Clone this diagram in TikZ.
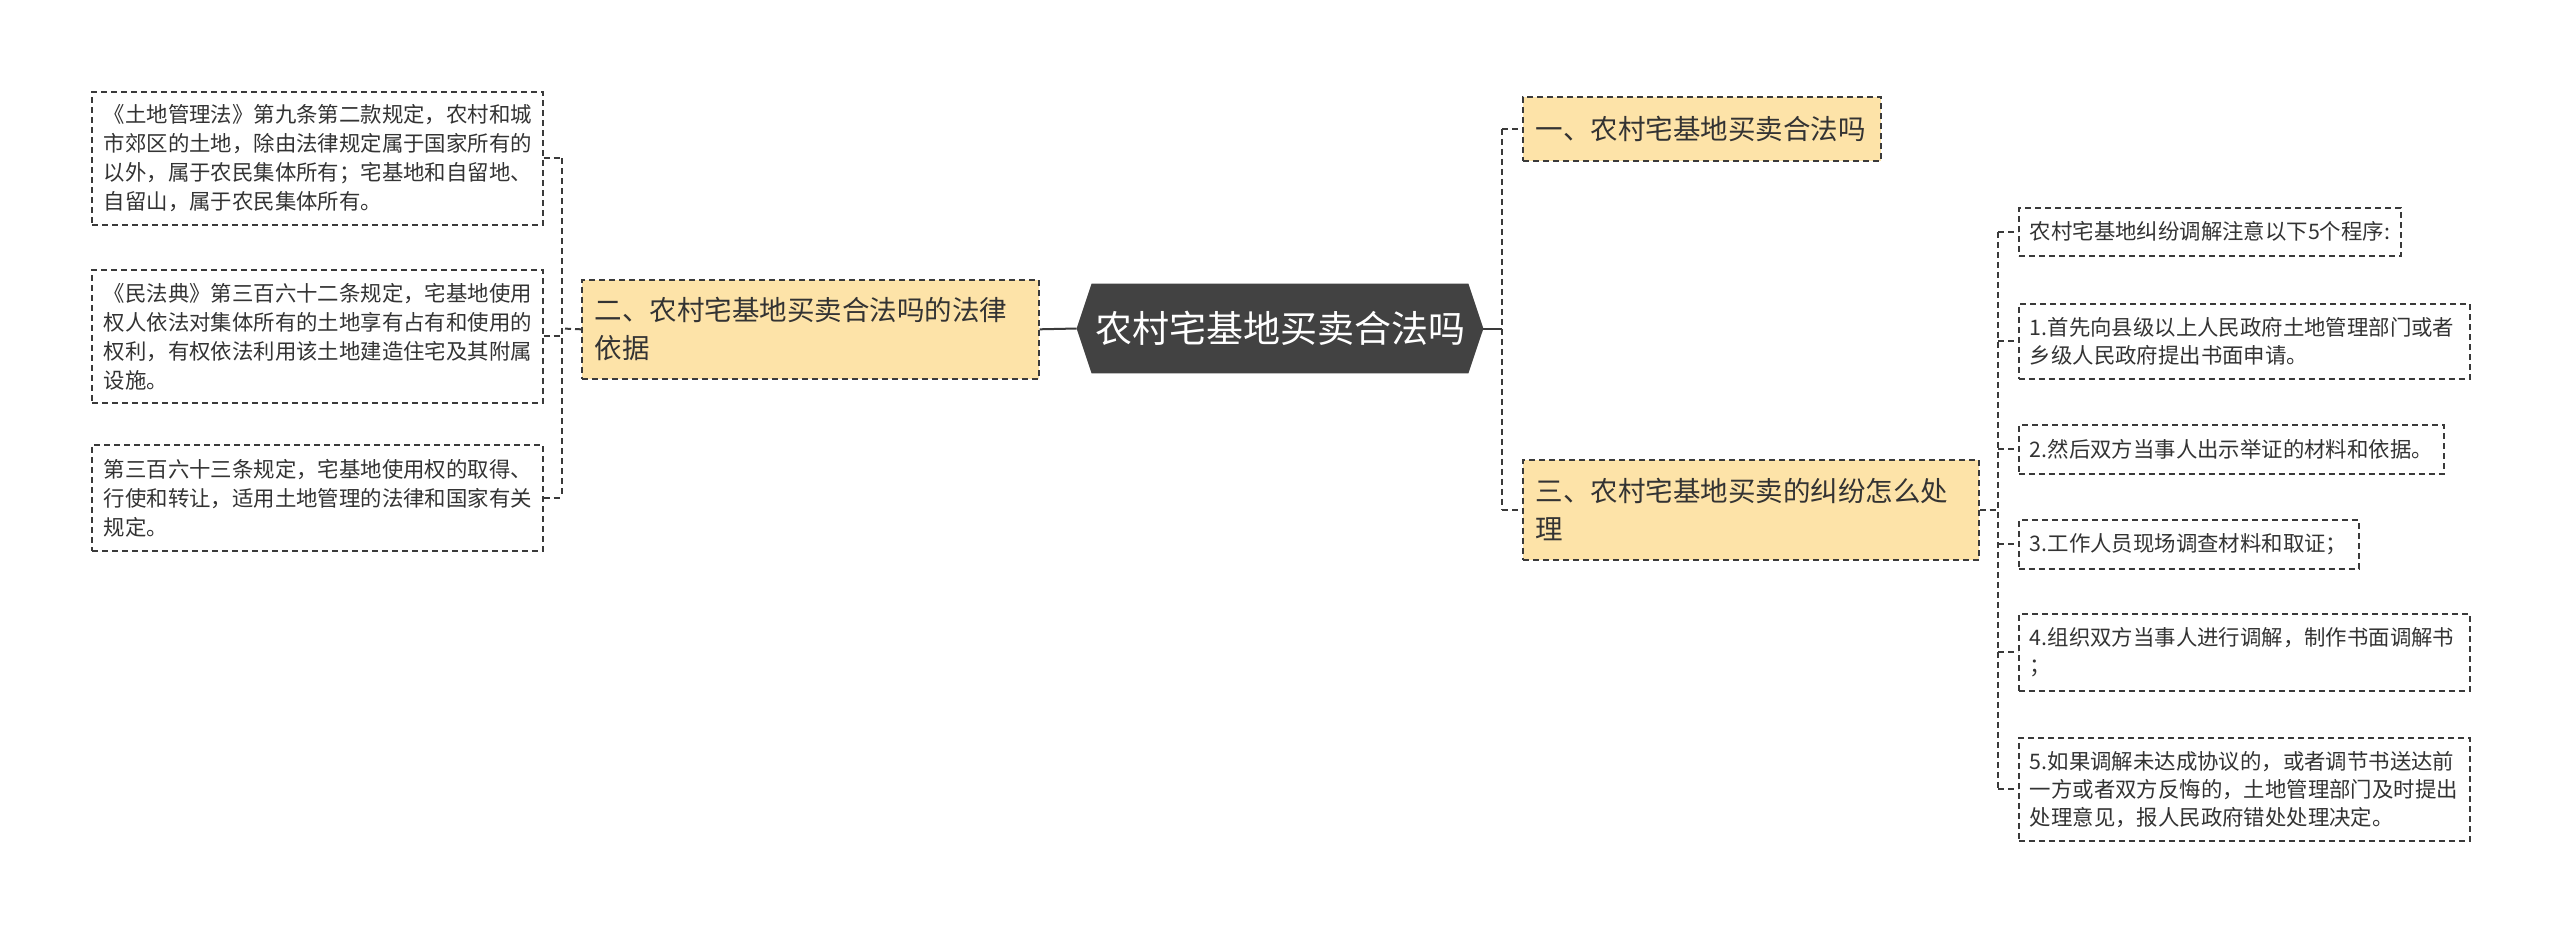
\documentclass[tikz,border=0pt]{standalone}
\usepackage{fontspec}
\newfontfamily\cjk{Noto Sans CJK SC}
\usetikzlibrary{backgrounds}
\definecolor{inkc}{HTML}{333333}
\definecolor{linec}{HTML}{3A3A3A}
\definecolor{topicc}{HTML}{FDE3A8}
\definecolor{rootc}{HTML}{424242}

\begin{document}
\begin{tikzpicture}[x=0.5pt, y=-0.5pt,
  link/.style={linec, line width=1pt, dash pattern=on 3pt off 2pt},
  solidlink/.style={linec, line width=1pt},
  leaf/.style={draw=linec, line width=0.8pt, dash pattern=on 3pt off 2pt, anchor=north west,
    align=left, inner xsep=6pt, inner ysep=0pt, text=inkc, font=\cjk\fontsize{10.7pt}{14.5pt}\selectfont},
  proc/.style={leaf, inner xsep=5.5pt, font=\cjk\fontsize{10.7pt}{14pt}\selectfont},
  topic/.style={leaf, fill=topicc, inner xsep=6.5pt, font=\cjk\fontsize{13.75pt}{19pt}\selectfont},
  rootnode/.style={minimum width=188pt, minimum height=44.5pt, inner sep=0pt, text=white,
    font=\cjk\fontsize{18.5pt}{22pt}\selectfont}]
  \useasboundingbox (0,0) rectangle (2560,933);

  \node[rootnode] (root) at (1280,328.5) {农村宅基地买卖合法吗};
  \coordinate (rootL) at ([xshift=-7.5pt]root.west);
  \coordinate (rootR) at ([xshift=7.5pt]root.east);
  \begin{scope}[on background layer]
    \fill[rootc] (rootL) -- (root.north west) -- (root.north east) -- (rootR)
      -- (root.south east) -- (root.south west) -- cycle;
  \end{scope}

  \node[topic, text width=215.5pt, minimum height=49.5pt] (basis) at (581,279) {二、农村宅基地买卖合法吗的法律\\依据};
  \node[topic, text width=166pt, minimum height=32pt] (legal) at (1522,96) {一、农村宅基地买卖合法吗};
  \node[topic, text width=215pt, minimum height=50pt] (dispute) at (1522,459) {三、农村宅基地买卖的纠纷怎么处\\理};

  \node[leaf, text width=213.5pt, minimum height=66.5pt] (law1) at (91,91) {《土地管理法》第九条第二款规定，农村和城\\市郊区的土地，除由法律规定属于国家所有的\\以外，属于农民集体所有；宅基地和自留地、\\自留山，属于农民集体所有。};
  \node[leaf, text width=213.5pt, minimum height=66.5pt] (law2) at (91,269) {《民法典》第三百六十二条规定，宅基地使用\\权人依法对集体所有的土地享有占有和使用的\\权利，有权依法利用该土地建造住宅及其附属\\设施。};
  \node[leaf, text width=213.5pt, minimum height=53pt] (law3) at (91,444) {第三百六十三条规定，宅基地使用权的取得、\\行使和转让，适用土地管理的法律和国家有关\\规定。};

  \node[proc, text width=180pt, minimum height=24pt] (proc0) at (2018,207) {农村宅基地纠纷调解注意以下5个程序:};
  \node[proc, text width=214.5pt, minimum height=37.5pt] (proc1) at (2018,303) {1.首先向县级以上人民政府土地管理部门或者\\乡级人民政府提出书面申请。};
  \node[proc, text width=201.5pt, minimum height=24.5pt] (proc2) at (2018,424) {2.然后双方当事人出示举证的材料和依据。};
  \node[proc, text width=159pt, minimum height=24.5pt] (proc3) at (2018,519) {3.工作人员现场调查材料和取证；};
  \node[proc, text width=214.5pt, minimum height=38.5pt] (proc4) at (2018,613) {4.组织双方当事人进行调解，制作书面调解书\\；};
  \node[proc, text width=214.5pt, minimum height=51.5pt] (proc5) at (2018,737) {5.如果调解未达成协议的，或者调节书送达前\\一方或者双方反悔的，土地管理部门及时提出\\处理意见，报人民政府错处处理决定。};

  % left branch
  \coordinate (lspine) at (562,328.5);
  \draw[solidlink] (basis.east) -- (rootL);
  \draw[link] (basis.west) -- (lspine);
  \draw[link] (law1.east -| lspine) -- (law3.east -| lspine);
  \foreach \n in {law1,law2,law3}
    \draw[link] (\n.east) -- (\n.east -| lspine);

  % right branch
  \coordinate (rspine) at (1502,328.5);
  \draw[solidlink] (rootR) -- (rspine);
  \draw[link] (legal.west -| rspine) -- (dispute.west -| rspine);
  \foreach \n in {legal,dispute}
    \draw[link] (\n.west -| rspine) -- (\n.west);

  \coordinate (pspine) at (1998,0);
  \draw[link] (dispute.east) -- (dispute.east -| pspine);
  \draw[link] (proc0.west -| pspine) -- (proc5.west -| pspine);
  \foreach \n in {proc0,proc1,proc2,proc3,proc4,proc5}
    \draw[link] (\n.west -| pspine) -- (\n.west);
\end{tikzpicture}
\end{document}
